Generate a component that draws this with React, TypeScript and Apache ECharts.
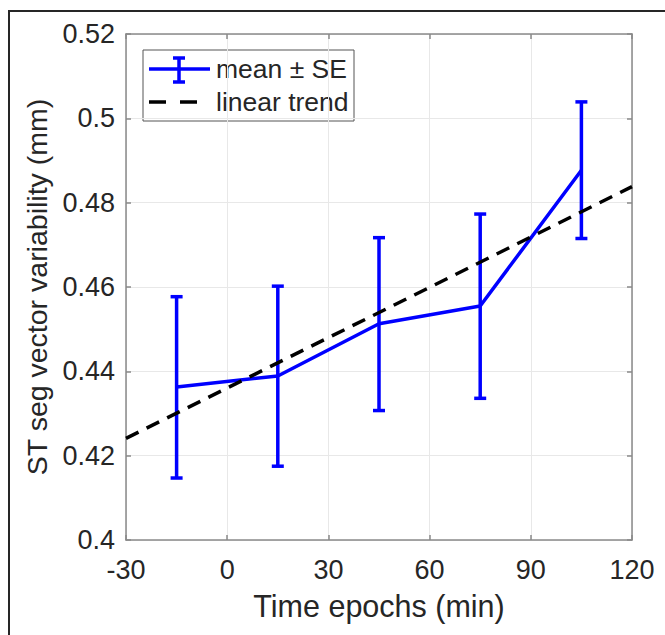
import React, { useEffect, useRef } from "react";
import * as echarts from "echarts";

const epochs = [-15, 15, 45, 75, 105];
const means = [0.4363, 0.4389, 0.4513, 0.4555, 0.4877];
const upperSE = [0.4577, 0.4602, 0.4717, 0.4773, 0.5039];
const lowerSE = [0.4147, 0.4175, 0.4307, 0.4336, 0.4715];
const trendX = [-30, 120];
const trendY = [0.4241, 0.4838];

const xTitle = "Time epochs (min)";
const yTitle = "ST seg vector variability (mm)";
const legendLabels = ["mean \u00B1 SE", "linear trend"];

const FONT = "'Liberation Sans', Arial, Helvetica, sans-serif";
const BLUE = "#0000ff";
const AXIS = "#8a8a8a";
const TXT = "#262626";

export default function App() {
  const ref = useRef<HTMLDivElement>(null);
  useEffect(() => {
    if (!ref.current) return;
    const chart = echarts.init(ref.current, null, { renderer: "svg" });
    const axisCommon = {
      type: "value" as const,
      axisLine: { show: true, onZero: false, lineStyle: { color: AXIS, width: 1.5 } },
      axisTick: { show: true, inside: true, length: 5, lineStyle: { color: AXIS, width: 1.5 } },
    };
    const option: any = {
      animation: false,
      backgroundColor: "#ffffff",
      grid: { left: 126, top: 34, width: 506, height: 506, show: false },
      xAxis: [
        {
          ...axisCommon,
          min: -30,
          max: 120,
          interval: 30,
          position: "bottom",
          axisLabel: { fontSize: 27, color: TXT, fontFamily: FONT, margin: 16 },
          splitLine: { show: true, lineStyle: { color: "#e8e8e8", width: 1 } },
          name: xTitle,
          nameLocation: "middle",
          nameGap: 50,
          nameTextStyle: { fontSize: 30.5, color: TXT, fontFamily: FONT },
        },
        {
          ...axisCommon,
          min: -30,
          max: 120,
          interval: 30,
          position: "top",
          axisLabel: { show: false },
          splitLine: { show: false },
        },
      ],
      yAxis: [
        {
          ...axisCommon,
          min: 0.4,
          max: 0.52,
          interval: 0.02,
          position: "left",
          axisLabel: {
            fontSize: 27,
            color: TXT,
            fontFamily: FONT,
            margin: 11,
            formatter: (v: number) => String(Math.round(v * 100) / 100),
          },
          splitLine: { show: true, lineStyle: { color: "#e8e8e8", width: 1 } },
          name: yTitle,
          nameLocation: "middle",
          nameGap: 74,
          nameTextStyle: { fontSize: 28.5, color: TXT, fontFamily: FONT },
        },
        {
          ...axisCommon,
          min: 0.4,
          max: 0.52,
          interval: 0.02,
          position: "right",
          axisLabel: { show: false },
          splitLine: { show: false },
        },
      ],
      series: [
        {
          type: "custom",
          name: "errorbars",
          xAxisIndex: 0,
          yAxisIndex: 0,
          z: 2,
          data: epochs.map((x, i) => [x, lowerSE[i], upperSE[i]]),
          encode: { x: 0, y: [1, 2] },
          renderItem: (params: any, api: any) => {
            const x = api.value(0);
            const lo = api.coord([x, api.value(1)]);
            const hi = api.coord([x, api.value(2)]);
            const hw = 6;
            const st = { stroke: BLUE, lineWidth: 3.5 };
            return {
              type: "group",
              children: [
                { type: "line", shape: { x1: lo[0], y1: lo[1], x2: hi[0], y2: hi[1] }, style: st },
                { type: "line", shape: { x1: hi[0] - hw, y1: hi[1], x2: hi[0] + hw, y2: hi[1] }, style: st },
                { type: "line", shape: { x1: lo[0] - hw, y1: lo[1], x2: lo[0] + hw, y2: lo[1] }, style: st },
              ],
            };
          },
        },
        {
          type: "line",
          name: legendLabels[0],
          z: 3,
          data: epochs.map((x, i) => [x, means[i]]),
          showSymbol: false,
          symbol: "none",
          lineStyle: { color: BLUE, width: 3.5 },
        },
        {
          type: "line",
          name: legendLabels[1],
          z: 4,
          data: trendX.map((x, i) => [x, trendY[i]]),
          showSymbol: false,
          symbol: "none",
          lineStyle: { color: "#000000", width: 3.5, type: [14, 9] },
        },
      ],
      graphic: [
        {
          type: "rect",
          shape: { x: 9, y: 11, width: 720, height: 720 },
          style: { fill: "none", stroke: "#262626", lineWidth: 2 },
          silent: true,
        },
        {
          type: "group",
          children: [
            {
              type: "rect",
              shape: { x: 143, y: 50, width: 211, height: 71 },
              style: { fill: "#ffffff", stroke: "#555555", lineWidth: 1 },
            },
            { type: "line", shape: { x1: 149, y1: 69, x2: 210, y2: 69 }, style: { stroke: BLUE, lineWidth: 3.5 } },
            { type: "line", shape: { x1: 179, y1: 58, x2: 179, y2: 82 }, style: { stroke: BLUE, lineWidth: 3.5 } },
            { type: "line", shape: { x1: 173, y1: 58, x2: 185, y2: 58 }, style: { stroke: BLUE, lineWidth: 3.5 } },
            { type: "line", shape: { x1: 173, y1: 82, x2: 185, y2: 82 }, style: { stroke: BLUE, lineWidth: 3.5 } },
            {
              type: "text",
              style: { x: 216, y: 69, text: legendLabels[0], fontSize: 26.5, fontFamily: FONT, fill: TXT, verticalAlign: "middle" },
            },
            {
              type: "line",
              shape: { x1: 149, y1: 102, x2: 197, y2: 102 },
              style: { stroke: "#000000", lineWidth: 3.5, lineDash: [17, 14] },
            },
            {
              type: "text",
              style: { x: 216, y: 102, text: legendLabels[1], fontSize: 26.5, fontFamily: FONT, fill: TXT, verticalAlign: "middle" },
            },
          ],
          z: 100,
        },
      ],
    };
    chart.setOption(option);
    return () => chart.dispose();
  }, []);
  return (
    <div
      ref={ref}
      style={{ position: "absolute", left: 0, top: 0, width: 665, height: 635, background: "#fff" }}
    />
  );
}
